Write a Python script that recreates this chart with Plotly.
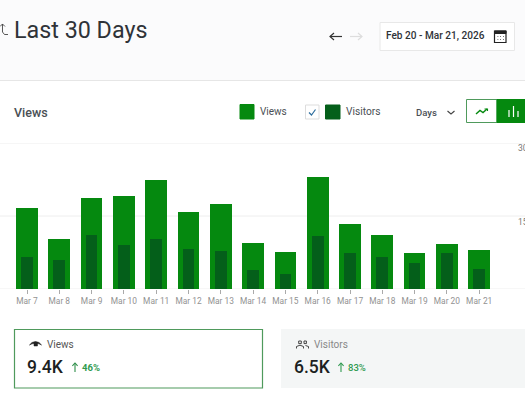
import plotly.graph_objects as go

days = ["Mar 7","Mar 8","Mar 9","Mar 10","Mar 11","Mar 12","Mar 13","Mar 14","Mar 15","Mar 16","Mar 17","Mar 18","Mar 19","Mar 20","Mar 21"]
views = [166,103,186,192,225,158,175,94,77,231,134,110,75,92,80]
visitors = [66,59,110,90,103,82,79,39,30,109,73,66,53,75,41]
y_ticks = [0,150,300]

W, H = 525, 394
TOP, BOTTOM = 143, 289
GREEN, DARK = "#05890f", "#045f1a"

fig = go.Figure()
fig.add_bar(x=days, y=views, width=0.67, marker=dict(color=GREEN, line=dict(width=0), cornerradius=1), name="Views")
fig.add_bar(x=days, y=visitors, width=0.36, marker=dict(color=DARK, line=dict(width=0)), name="Visitors")

def X(p): return p / W
def Y(p): return (BOTTOM - p) / (BOTTOM - TOP)

shapes, ann = [], []
def rect(x0, y0, x1, y1, fill="rgba(0,0,0,0)", line=None, lw=1, below=True):
    shapes.append(dict(type="rect", xref="paper", yref="paper", x0=X(x0), x1=X(x1), y0=Y(y0), y1=Y(y1),
                       fillcolor=fill, line=dict(color=line or "rgba(0,0,0,0)", width=lw if line else 0),
                       layer="below" if below else "above"))
def path(pts, color, lw=1.2, fill=None):
    d = "M" + " L".join(f"{X(a):.5f},{Y(b):.5f}" for a, b in pts)
    if fill: d += " Z"
    shapes.append(dict(type="path", xref="paper", yref="paper", path=d, fillcolor=fill or "rgba(0,0,0,0)",
                       line=dict(color=color, width=lw), layer="above"))
def text(x, y, s, size=10, color="#444", anchor="left", weight=400):
    ann.append(dict(xref="paper", yref="paper", x=X(x), y=Y(y), text=s, showarrow=False,
                    xanchor=anchor, yanchor="middle", font=dict(size=size, color=color, family="Roboto, sans-serif", weight=weight),
                    borderpad=0, borderwidth=0))
def up_arrow(x, y0, y1, color):
    path([(x, y1), (x, y0)], color, 1.1)
    path([(x - 2.6, y0 + 2.8), (x, y0), (x + 2.6, y0 + 2.8)], color, 1.1)

# header band
rect(0, 0, W, 80, fill="#fbfbfc")
path([(0, 80.5), (W, 80.5)], "#e6e6e6", 1)
text(14, 30, "Last 30 Days", 23.3, "#2f3338")
path([(0, 26.5), (2.5, 24), (5, 26.5)], "#444", 0.9)
path([(2.5, 24), (2.5, 32), (4.5, 34.5), (8, 34.5)], "#444", 0.9)
# date navigation
path([(330, 36.5), (342, 36.5)], "#333", 1.2)
path([(334, 33), (330, 36.5), (334, 40)], "#333", 1.2)
path([(350, 36.5), (362, 36.5)], "#ddd", 1.2)
path([(358, 33), (362, 36.5), (358, 40)], "#ddd", 1.2)
rect(380, 22.5, 514.5, 50.5, fill="#ffffff", line="#e8e8e8")
text(386, 36, "Feb 20 - Mar 21, 2026", 10.1, "#2f3338", weight=500)
rect(494.5, 31, 506, 42.5, fill="#ffffff", line="#222", lw=1.2, below=False)
rect(494.5, 31, 506, 33.5, fill="#222", line="#222", lw=1, below=False)
for px in (497.5, 500.2, 503):
    path([(px, 36.5), (px + 0.8, 36.5)], "#444", 0.9)
    path([(px, 39.5), (px + 0.8, 39.5)], "#444", 0.9)

# chart controls
text(14, 112, "Views", 12.5, "#4a4f55", weight=500)
rect(240, 104.5, 254, 119, fill=GREEN, line=GREEN)
text(260, 111, "Views", 10, "#4a4f55")
rect(305.5, 105, 319, 119, fill="#ffffff", line="#dddddd")
path([(309, 112.5), (311.5, 115), (315.5, 109.5)], "#2f6f9f", 1.2)
rect(325.5, 105, 340, 119, fill=DARK, line=DARK)
text(346, 111, "Visitors", 10.2, "#4a4f55")
text(416, 112, "Days", 9.5, "#4a4f55", weight=500)
path([(447.5, 111), (451, 114), (454.5, 111)], "#444", 1.1)
rect(466.5, 99.5, 497, 122.5, fill="#ffffff", line="#4f9a5c")
rect(497, 99.5, W, 122.5, fill=GREEN, line=GREEN)
path([(476, 114), (480, 110.5), (483, 112.5), (487, 109)], GREEN, 1.4)
path([(484.5, 109), (487.5, 109), (487.5, 111)], GREEN, 1.1)
for px, top in ((509, 110), (513.5, 106), (518, 111)):
    path([(px, 117), (px, top)], "#ffffff", 1.2)

# y tick labels, clipped by the right edge as in the reference
for v, py in zip(y_ticks[1:], (221.5, 148)):
    text(518, py, str(v), 8.5, "#777")

# gridlines drawn at the axis limits too, where the axis would drop them
for v in y_ticks:
    shapes.append(dict(type="line", xref="paper", yref="y", x0=0, x1=1, y0=v, y1=v,
                       line=dict(color="#eeeeee", width=1), layer="below"))

# stat cards
rect(14.5, 329.5, 262.5, 388, fill="#ffffff", line="#4f9a5c", lw=1.2)
path([(29.5, 345), (32, 342.5), (35.5, 341.5), (39, 342.5), (41.5, 345), (39, 343.8), (35.5, 343.3), (32, 343.8)], "#222", 0.6, fill="#222")
rect(34, 342.5, 37.5, 346, fill="#222", line="#222", lw=0.5, below=False)
text(47, 344, "Views", 10, "#555")
text(27, 367, "9.4K", 17.5, "#1c1f22", weight=500)
up_arrow(75, 363, 372, "#2f8f4a")
text(82, 367.5, "46%", 9.5, "#2f9a50", weight=700)

rect(281, 329, W, 388, fill="#f4f6f6")
path([(296.5, 348.5), (296.5, 346.5), (300, 345.2), (303.5, 346.5), (303.5, 348.5)], "#333", 0.9)
path([(305.5, 345.5), (308.5, 346.5), (308.5, 348.5)], "#333", 0.9)
rect(298.7, 341, 301.3, 343.6, line="#333", lw=0.9, below=False)
rect(304, 341, 306.4, 343.6, line="#333", lw=0.9, below=False)
text(314, 344, "Visitors", 10, "#888")
text(294, 367, "6.5K", 17.5, "#1c1f22", weight=500)
up_arrow(341, 363, 372, "#2f9a50")
text(348, 367.5, "83%", 9.5, "#2f9a50", weight=500)

spacing = 32.3
fig.update_layout(
    width=W, height=H, margin=dict(l=0, r=0, t=TOP, b=H - BOTTOM), autosize=False,
    paper_bgcolor="#ffffff", plot_bgcolor="rgba(0,0,0,0)", barmode="overlay", bargap=0,
    showlegend=False, shapes=shapes, annotations=ann,
    font=dict(family="Roboto, sans-serif"),
    xaxis=dict(type="category", categoryorder="array", categoryarray=days, tickmode="array", tickvals=days, ticktext=days,
               range=[-27 / spacing, (W - 27) / spacing], ticks="outside", ticklen=4, tickcolor="#aaa", tickwidth=1,
               tickfont=dict(size=8.4, color="#929292"), tickangle=0, showgrid=False, showline=False, zeroline=False),
    yaxis=dict(range=[0, 300], tickvals=y_ticks, showticklabels=False, showgrid=False,
               zeroline=False, showline=False, ticks=""),
)
fig.write_html("out.html", config=dict(displayModeBar=False, responsive=False),
               post_script="document.body.style.margin='0';document.body.style.overflow='hidden';")
